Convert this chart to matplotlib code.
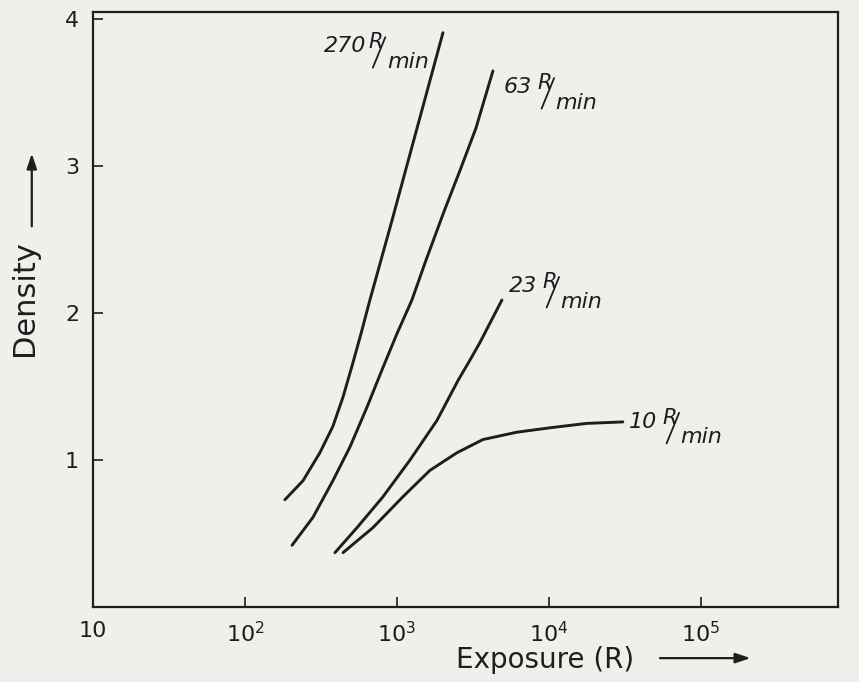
import matplotlib
matplotlib.use("Agg")
import matplotlib.pyplot as plt
from matplotlib.transforms import offset_copy

# Characteristic curves (exposure in R, density)
exp_270 = [183, 241, 311, 379, 442, 506, 580, 664, 927, 2009]
den_270 = [0.73, 0.86, 1.05, 1.23, 1.43, 1.64, 1.86, 2.09, 2.63, 3.91]

exp_63 = [204, 280, 379, 491, 635, 809, 1000, 1255, 1552, 2037, 2596, 3311, 4285]
den_63 = [0.42, 0.61, 0.86, 1.09, 1.36, 1.63, 1.86, 2.09, 2.36, 2.69, 2.97, 3.26, 3.65]

exp_23 = [391, 546, 809, 1218, 1834, 2518, 3021, 3516, 4909]
den_23 = [0.37, 0.54, 0.75, 1.00, 1.27, 1.54, 1.68, 1.80, 2.09]

exp_10 = [442, 695, 1094, 1648, 2483, 3681, 6157, 10160, 17780, 30690]
den_10 = [0.37, 0.54, 0.75, 0.93, 1.05, 1.14, 1.19, 1.22, 1.25, 1.26]

rates = ["270", "63", "23", "10"]
xticks = [10, 1e2, 1e3, 1e4, 1e5]
xticklabels = ["10", "$10^2$", "$10^3$", "$10^4$", "$10^5$"]
yticks = [1, 2, 3, 4]

ink = "#1e1e1e"
paper = "#efefec"

fig = plt.figure(figsize=(8.59, 6.82), dpi=100, facecolor=paper)
ax = fig.add_axes([0.1083, 0.110, 0.8673, 0.8722])
ax.set_facecolor(paper)

for xs, ys in [(exp_270, den_270), (exp_63, den_63), (exp_23, den_23), (exp_10, den_10)]:
    ax.plot(xs, ys, color=ink, lw=2.1, solid_capstyle="round", solid_joinstyle="round")

ax.set_xscale("log")
ax.set_xlim(10, 8e5)
ax.set_ylim(0, 4.05)
ax.set_xticks(xticks)
ax.set_xticklabels(xticklabels)
ax.minorticks_off()
ax.set_yticks(yticks)
ax.set_yticklabels([str(v) for v in yticks])
ax.tick_params(direction="in", length=7, width=1.2, color=ink, labelcolor=ink,
               labelsize=16, pad=10, top=False, right=False)
for s in ax.spines.values():
    s.set_color(ink)
    s.set_linewidth(1.6)


# curve labels like 270 R/min: R raised, slash drawn as a stroke, "min" below
def rate_label(x, y, num, shift=0):
    kw = dict(color=ink, style="italic", textcoords="offset points")
    ax.annotate(num, xy=(x, y), xytext=(0, 0), ha="right", va="baseline", fontsize=16, **kw)
    ax.annotate("R", xy=(x, y), xytext=(4 + shift, 3), ha="left", va="baseline", fontsize=15, **kw)
    ax.annotate("min", xy=(x, y), xytext=(17 + shift, -11), ha="left", va="baseline", fontsize=16, **kw)
    start = offset_copy(ax.transData, fig=fig, x=7 + shift, y=-11, units="points")
    ax.annotate("", xy=(x, y), xycoords=start, xytext=(9, 22), textcoords="offset points",
                arrowprops=dict(arrowstyle="-", color=ink, lw=1.3, shrinkA=0, shrinkB=0))


rate_label(625, 3.776, rates[0], shift=-2)
rate_label(7730, 3.497, rates[1])
rate_label(8340, 2.143, rates[2])
rate_label(51400, 1.218, rates[3])

# axis titles with arrows
fig.text(0.028, 0.563, "Density", rotation=90, ha="center", va="center",
         fontsize=22, color=ink)
fig.add_artist(matplotlib.patches.FancyArrowPatch(
    (0.037, 0.664), (0.037, 0.779), transform=fig.transFigure,
    arrowstyle="-|>,head_length=9,head_width=3", color=ink, lw=1.6))
fig.text(0.634, 0.021, "Exposure (R)", ha="center", va="baseline",
         fontsize=20, color=ink)
fig.add_artist(matplotlib.patches.FancyArrowPatch(
    (0.765, 0.035), (0.877, 0.035), transform=fig.transFigure,
    arrowstyle="-|>,head_length=9,head_width=3", color=ink, lw=1.6))

fig.savefig("out.png", dpi=100, facecolor=paper)
